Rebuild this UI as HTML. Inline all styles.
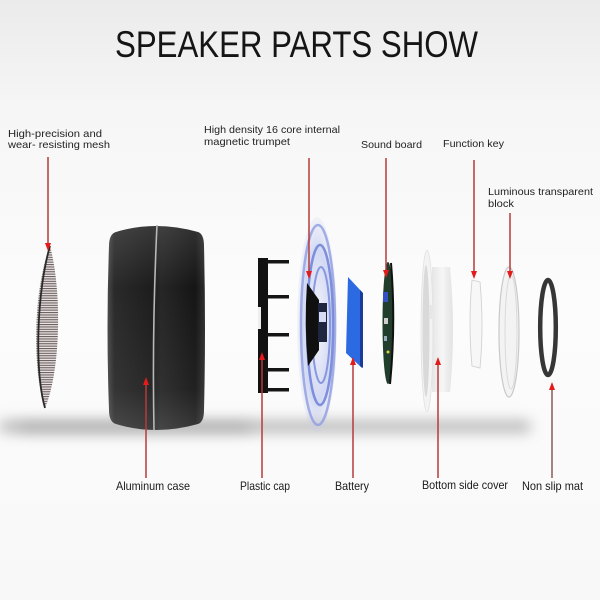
<!DOCTYPE html>
<html><head><meta charset="utf-8"><style>
html,body{margin:0;padding:0;background:#fff;}
svg{display:block;}
text{font-family:"Liberation Sans",sans-serif;}
</style></head><body>
<svg width="600" height="600" viewBox="0 0 600 600" xmlns="http://www.w3.org/2000/svg">
<defs>
<linearGradient id="bg" x1="0" y1="0" x2="0" y2="1">
<stop offset="0" stop-color="#ebebeb"/>
<stop offset="0.18" stop-color="#f6f6f6"/>
<stop offset="0.5" stop-color="#fcfcfc"/>
<stop offset="1" stop-color="#f8f8f8"/>
</linearGradient>
<filter id="blur6" x="-20%" y="-300%" width="140%" height="700%"><feGaussianBlur stdDeviation="7"/></filter>
<linearGradient id="caseG" x1="0" y1="0" x2="1" y2="0">
<stop offset="0" stop-color="#4a4a4a"/>
<stop offset="0.07" stop-color="#2a2a2a"/>
<stop offset="0.45" stop-color="#1d1d1d"/>
<stop offset="0.55" stop-color="#262626"/>
<stop offset="0.9" stop-color="#151515"/>
<stop offset="1" stop-color="#2e2e2e"/>
</linearGradient>
<linearGradient id="caseV" x1="0" y1="0" x2="0" y2="1">
<stop offset="0" stop-color="#fff" stop-opacity="0.12"/>
<stop offset="0.3" stop-color="#fff" stop-opacity="0"/>
<stop offset="0.8" stop-color="#fff" stop-opacity="0.05"/>
<stop offset="1" stop-color="#fff" stop-opacity="0.15"/>
</linearGradient>
<pattern id="mesh" width="2.4" height="2.4" patternUnits="userSpaceOnUse">
<rect width="2.4" height="2.4" fill="#ece4e4"/>
<rect x="0" y="0" width="2.4" height="1.1" fill="#6a6060"/>
</pattern>
<radialGradient id="glow" cx="0.5" cy="0.5" r="0.5">
<stop offset="0" stop-color="#c9d1f2" stop-opacity="0.2"/>
<stop offset="0.7" stop-color="#b7c2ee" stop-opacity="0.6"/>
<stop offset="1" stop-color="#c4ccf0" stop-opacity="0.15"/>
</radialGradient>
<linearGradient id="coverG" x1="0" y1="0" x2="1" y2="0">
<stop offset="0" stop-color="#e6e6e6"/>
<stop offset="0.5" stop-color="#f6f6f6"/>
<stop offset="1" stop-color="#e2e2e2"/>
</linearGradient>
</defs>

<rect width="600" height="600" fill="url(#bg)"/>

<!-- shadow band -->
<rect x="0" y="421" width="530" height="11" fill="#999" filter="url(#blur6)" opacity="0.75"/>
<rect x="20" y="424" width="230" height="7" fill="#888" filter="url(#blur6)" opacity="0.5"/>

<!-- title -->
<text x="115" y="57" font-size="37" fill="#151515" textLength="363" lengthAdjust="spacingAndGlyphs">SPEAKER PARTS SHOW</text>

<!-- top labels -->
<g font-size="10.5" fill="#222">
<text x="8" y="137" textLength="94" lengthAdjust="spacingAndGlyphs">High-precision and</text>
<text x="8" y="148" textLength="102" lengthAdjust="spacingAndGlyphs">wear- resisting mesh</text>
<text x="204" y="133" textLength="136" lengthAdjust="spacingAndGlyphs">High density 16 core internal</text>
<text x="204" y="145" textLength="86" lengthAdjust="spacingAndGlyphs">magnetic trumpet</text>
<text x="361" y="148" textLength="61" lengthAdjust="spacingAndGlyphs">Sound board</text>
<text x="443" y="147" textLength="61" lengthAdjust="spacingAndGlyphs">Function key</text>
<text x="488" y="195" textLength="105" lengthAdjust="spacingAndGlyphs">Luminous transparent</text>
<text x="488" y="207" textLength="26" lengthAdjust="spacingAndGlyphs">block</text>
</g>

<!-- bottom labels -->
<g font-size="12" fill="#1a1a1a">
<text x="116" y="490" textLength="74" lengthAdjust="spacingAndGlyphs">Aluminum case</text>
<text x="240" y="490" textLength="50" lengthAdjust="spacingAndGlyphs">Plastic cap</text>
<text x="335" y="490" textLength="34" lengthAdjust="spacingAndGlyphs">Battery</text>
<text x="422" y="489" textLength="86" lengthAdjust="spacingAndGlyphs">Bottom side cover</text>
<text x="522" y="490" textLength="61" lengthAdjust="spacingAndGlyphs">Non slip mat</text>
</g>

<!-- mesh -->
<path d="M50,246 C62,290 61,370 45,408 C32,370 33,290 50,246 Z" fill="url(#mesh)"/>
<path d="M50,246 C37,290 34,370 45,408" fill="none" stroke="#2a2a2a" stroke-width="1.8"/>

<!-- aluminum case -->
<path id="cs" d="M116,232 Q155,220 198,232 Q204,234 204,246 Q206,328 204,410 Q204,422 198,424 Q155,436 116,424 Q109,422 109,410 Q106,328 109,246 Q109,234 116,232 Z" fill="url(#caseG)"/>
<path d="M116,232 Q155,220 198,232 Q204,234 204,246 Q206,328 204,410 Q204,422 198,424 Q155,436 116,424 Q109,422 109,410 Q106,328 109,246 Q109,234 116,232 Z" fill="url(#caseV)"/>
<path d="M157,225 Q152,330 154,430" fill="none" stroke="#b8b8b8" stroke-width="1.6"/>

<!-- plastic cap -->
<rect x="258" y="258" width="10" height="135" fill="#121212"/>
<rect x="258" y="307" width="3" height="22" fill="#eee"/>
<g fill="#151515">
<rect x="266" y="260" width="23" height="3.5"/>
<rect x="266" y="295" width="23" height="3.5"/>
<rect x="266" y="333" width="23" height="3.5"/>
<rect x="266" y="368" width="23" height="3.5"/>
<rect x="266" y="388" width="23" height="3.5"/>
</g>

<!-- blue waves -->
<ellipse cx="317" cy="325" rx="20" ry="108" fill="url(#glow)"/>
<ellipse cx="318" cy="325" rx="17" ry="100" fill="none" stroke="#8e9ce0" stroke-width="2.5" opacity="0.8"/>
<ellipse cx="320" cy="325" rx="13" ry="80" fill="none" stroke="#6c80d8" stroke-width="2.5" opacity="0.85"/>
<ellipse cx="321" cy="325" rx="9" ry="58" fill="none" stroke="#7386da" stroke-width="2" opacity="0.8"/>

<!-- speaker driver -->
<path d="M307,283 L319,300 L319,350 L308,366 Q304,325 307,283 Z" fill="#101010"/>
<rect x="318" y="303" width="9" height="39" fill="#1f2640"/>
<rect x="319" y="312" width="7" height="10" fill="#d6dcf4"/>

<!-- battery -->
<path d="M348,277 L362,292 L362,368 L346,353 Z" fill="#2c6ae2"/>
<path d="M360,290 L363,293 L363,368 L360,366 Z" fill="#1a3c98"/>

<!-- sound board -->
<ellipse cx="388" cy="323" rx="5.5" ry="61" fill="#213d2c"/>
<path d="M391,263 Q396,323 390,384" fill="none" stroke="#111" stroke-width="2"/>
<rect x="383" y="292" width="5" height="10" fill="#3552c4"/>
<rect x="384" y="318" width="4" height="6" fill="#cfcfcf"/>
<circle cx="388" cy="352" r="1.5" fill="#e0d040"/>
<rect x="384" y="336" width="3" height="5" fill="#9ab"/>

<!-- bottom side cover -->
<path d="M432,267 L450,267 Q456,330 450,392 L432,392 Z" fill="url(#coverG)"/>
<ellipse cx="427" cy="331" rx="6" ry="81" fill="#f3f3f3" stroke="#e0e0e0" stroke-width="0.8"/>
<ellipse cx="426" cy="331" rx="3.5" ry="66" fill="#d9d9d9"/>
<rect x="429" y="305" width="3" height="14" fill="#e6e6e6"/>

<!-- function key -->
<path d="M472,280 L480,282 Q484,325 480,368 L472,366 Q468,323 472,280 Z" fill="#f7f7f7" stroke="#d2d2d2" stroke-width="0.9"/>

<!-- transparent block -->
<ellipse cx="509" cy="332" rx="10" ry="65" fill="#f3f3f3" stroke="#c9c9c9" stroke-width="1.2"/>
<ellipse cx="511" cy="332" rx="6" ry="57" fill="none" stroke="#dadada" stroke-width="1"/>

<!-- non slip mat -->
<ellipse cx="548" cy="327.5" rx="7.8" ry="47.5" fill="none" stroke="#363636" stroke-width="4.5"/>

<!-- arrows -->
<g stroke="#b53a3a" stroke-width="1.5">
<line x1="48" y1="157" x2="48" y2="244"/>
<line x1="309" y1="158" x2="309" y2="272"/>
<line x1="386" y1="158" x2="386" y2="271"/>
<line x1="474" y1="160" x2="474" y2="272"/>
<line x1="510" y1="213" x2="510" y2="272"/>
<line x1="146" y1="478" x2="146" y2="384"/>
<line x1="262" y1="478" x2="262" y2="359"/>
<line x1="353" y1="478" x2="353" y2="364"/>
<line x1="438" y1="478" x2="438" y2="364"/>
<line x1="552" y1="478" x2="552" y2="389" stroke="#8a5a5a"/>
</g>
<g fill="#e31b1b">
<path d="M45,243 L51,243 L48,251 Z"/>
<path d="M306,271 L312,271 L309,279 Z"/>
<path d="M383,270 L389,270 L386,278 Z"/>
<path d="M471,271 L477,271 L474,279 Z"/>
<path d="M507,271 L513,271 L510,279 Z"/>
<path d="M143,385 L149,385 L146,377 Z"/>
<path d="M259,360 L265,360 L262,352 Z"/>
<path d="M350,365 L356,365 L353,357 Z"/>
<path d="M435,365 L441,365 L438,357 Z"/>
<path d="M549,390 L555,390 L552,382 Z"/>
</g>
</svg>
</body></html>
